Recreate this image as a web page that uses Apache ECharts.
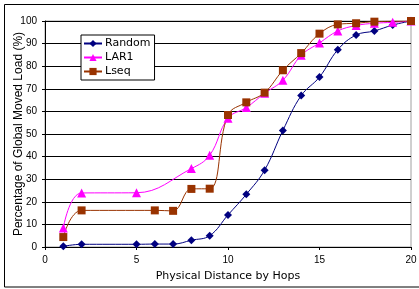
<!DOCTYPE html>
<html>
<head>
<meta charset="utf-8">
<script src="https://cdn.jsdelivr.net/npm/echarts@6/dist/echarts.min.js"></script>
<style>
  html, body { margin: 0; padding: 0; background: #fff; }
  #chart { width: 419px; height: 289px; }
</style>
</head>
<body>
<div id="chart"></div>
<script>
// values
const hopsRandom = [1, 2, 5, 6, 7, 8, 9, 10, 11, 12, 13, 14, 15, 16, 17, 18, 19, 20]
const loadRandom = [0.3, 1.2, 1.2, 1.3, 1.3, 3, 5, 14.2, 23.3, 34, 51.6, 67, 75.2, 87.3, 93.8, 95.6, 98.2, 100]

const hopsLar1 = [1, 2, 5, 8, 9, 10, 11, 12, 13, 14, 15, 16, 17, 18, 19, 20]
const loadLar1 = [8.4, 23.9, 24, 34.7, 40.6, 57, 61.7, 68, 73.8, 84.8, 90.3, 95.6, 98, 99, 99.4, 100]

const hopsLseq = [1, 2, 6, 7, 8, 9, 10, 11, 12, 13, 14, 15, 16, 17, 18, 20]
const loadLseq = [4.4, 16.2, 16.2, 16, 25.7, 25.8, 58.4, 64, 68.3, 78.2, 85.8, 94.4, 98.5, 99, 99.7, 100]

const seriesNames = ['Random', 'LAR1', 'Lseq']
const xTitle = 'Physical Distance by Hops'
const yTitle = 'Percentage of Global Moved Load (%)'

const arial = 'Arial, "Liberation Sans", sans-serif'
const wide = '"DejaVu Sans", sans-serif' // the picture's text is a bit stretched sideways

function pairs(xs, ys) {
  return xs.map((x, i) => [x, ys[i]])
}

function lineSeries(name, data, color, symbol, size) {
  return {
    name: name,
    type: 'line',
    data: data,
    smooth: 0.4,
    symbol: symbol,
    symbolSize: size,
    showSymbol: true,
    lineStyle: { color: color, width: 1 },
    itemStyle: { color: color },
    animation: false
  }
}

const chart = echarts.init(document.getElementById('chart'))
chart.setOption({
  backgroundColor: '#fff',
  grid: {
    left: 45, right: 8, top: 21, bottom: 42,
    outerBoundsMode: 'none',
    show: true, borderColor: '#a0a0a0', borderWidth: 1
  },
  graphic: [{
    type: 'rect',
    shape: { x: 4.5, y: 4.5, width: 420, height: 282.5 },
    style: { fill: null, stroke: '#000', lineWidth: 1 },
    silent: true
  }],
  legend: {
    data: seriesNames,
    orient: 'vertical',
    left: 81,
    top: 35,
    padding: [3, 4, 3, 2],
    itemGap: 3,
    itemWidth: 18,
    itemHeight: 9,
    backgroundColor: '#fff',
    borderColor: '#000',
    borderWidth: 1,
    borderRadius: 0,
    textStyle: { fontFamily: wide, fontSize: 11, color: '#000', padding: [0, 0, 0, -2] }
  },
  xAxis: {
    type: 'value',
    min: 0, max: 20, interval: 5,
    name: xTitle,
    nameLocation: 'middle',
    nameGap: 24,
    nameMoveOverlap: false,
    nameTextStyle: { fontFamily: wide, fontSize: 11, color: '#000' },
    axisLine: { lineStyle: { color: '#000', width: 1 } },
    axisTick: { show: true, length: 3, lineStyle: { color: '#000' } },
    axisLabel: { fontFamily: arial, fontSize: 10, color: '#000', margin: 8 },
    splitLine: { show: false }
  },
  yAxis: {
    type: 'value',
    min: 0, max: 100, interval: 10,
    name: yTitle,
    nameLocation: 'middle',
    nameGap: 20,
    nameMoveOverlap: false,
    nameTextStyle: { fontFamily: arial, fontSize: 12, color: '#000' },
    axisLine: { show: true, lineStyle: { color: '#000', width: 1 } },
    axisTick: { show: true, length: 3, lineStyle: { color: '#000' } },
    axisLabel: { fontFamily: arial, fontSize: 10, color: '#000', margin: 8 },
    splitLine: { show: true, lineStyle: { color: '#000', width: 1 } }
  },
  series: [
    lineSeries('Random', pairs(hopsRandom, loadRandom), '#000080', 'diamond', 8),
    lineSeries('LAR1', pairs(hopsLar1, loadLar1), '#ff00ff', 'triangle', 9),
    lineSeries('Lseq', pairs(hopsLseq, loadLseq), '#993300', 'rect', 8)
  ]
})
</script>
</body>
</html>
